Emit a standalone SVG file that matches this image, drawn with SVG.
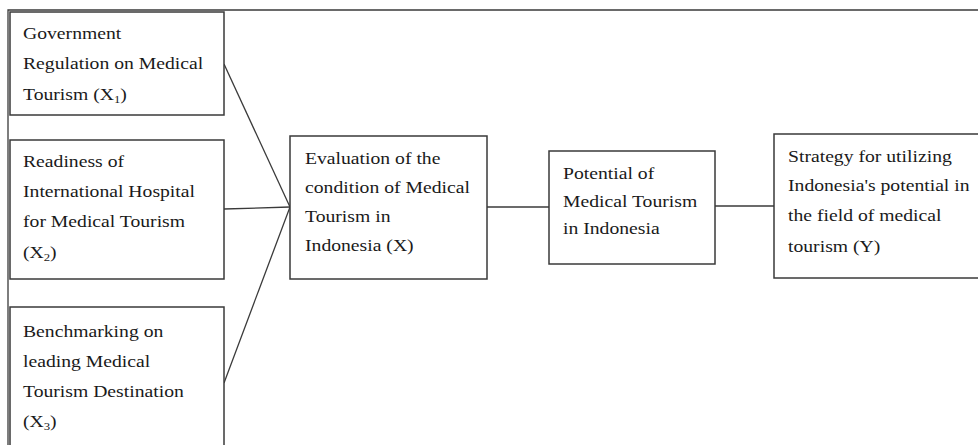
<svg xmlns="http://www.w3.org/2000/svg" width="978" height="445" viewBox="0 0 978 445">
<style>
.box{fill:#fff;stroke:#3a3a3a;stroke-width:1.5}
.t{font-family:"Liberation Serif","Times New Roman",serif;font-size:17px;fill:#1a1a1a}
.sub{font-size:11px}
.c{stroke:#3a3a3a;stroke-width:1.3;fill:none}
</style>
<rect width="978" height="445" fill="#fff"/>
<g id="frame">
<path class="c" d="M8,445 V10 H978" stroke-width="1.5"/>
</g>
<g id="connectors">
<line class="c" x1="224" y1="64" x2="290" y2="207"/>
<line class="c" x1="224" y1="209" x2="290" y2="207"/>
<line class="c" x1="224" y1="383" x2="290" y2="207"/>
<line class="c" x1="487" y1="207" x2="549" y2="207"/>
<line class="c" x1="715" y1="206" x2="774" y2="206"/>
</g>
<g id="x1">
<rect class="box" x="10" y="12" width="214" height="103"/>
<text class="t" transform="translate(23,0) scale(1.157,1)"><tspan x="0" y="39">Government</tspan><tspan x="0" y="69">Regulation on Medical</tspan><tspan x="0" y="100">Tourism (X<tspan class="sub" dy="3">1</tspan><tspan dy="-3">)</tspan></tspan></text>
</g>
<g id="x2">
<rect class="box" x="10" y="140" width="214" height="139"/>
<text class="t" transform="translate(23,0) scale(1.157,1)"><tspan x="0" y="167">Readiness of</tspan><tspan x="0" y="197">International Hospital</tspan><tspan x="0" y="227">for Medical Tourism</tspan><tspan x="0" y="258">(X<tspan class="sub" dy="3">2</tspan><tspan dy="-3">)</tspan></tspan></text>
</g>
<g id="x3">
<rect class="box" x="10" y="307" width="214" height="145"/>
<text class="t" transform="translate(23,0) scale(1.157,1)"><tspan x="0" y="337">Benchmarking on</tspan><tspan x="0" y="367">leading Medical</tspan><tspan x="0" y="397">Tourism Destination</tspan><tspan x="0" y="427">(X<tspan class="sub" dy="3">3</tspan><tspan dy="-3">)</tspan></tspan></text>
</g>
<g id="x">
<rect class="box" x="290" y="136" width="197" height="143"/>
<text class="t" transform="translate(305,0) scale(1.157,1)"><tspan x="0" y="164">Evaluation of the</tspan><tspan x="0" y="193">condition of Medical</tspan><tspan x="0" y="222">Tourism in</tspan><tspan x="0" y="251">Indonesia (X)</tspan></text>
</g>
<g id="potential">
<rect class="box" x="549" y="151" width="166" height="113"/>
<text class="t" transform="translate(563,0) scale(1.157,1)"><tspan x="0" y="179">Potential of</tspan><tspan x="0" y="207">Medical Tourism</tspan><tspan x="0" y="234">in Indonesia</tspan></text>
</g>
<g id="y">
<rect class="box" x="774" y="134" width="210" height="144"/>
<text class="t" transform="translate(788,0) scale(1.157,1)"><tspan x="0" y="162">Strategy for utilizing</tspan><tspan x="0" y="191">Indonesia's potential in</tspan><tspan x="0" y="221">the field of medical</tspan><tspan x="0" y="252">tourism (Y)</tspan></text>
</g>
</svg>
